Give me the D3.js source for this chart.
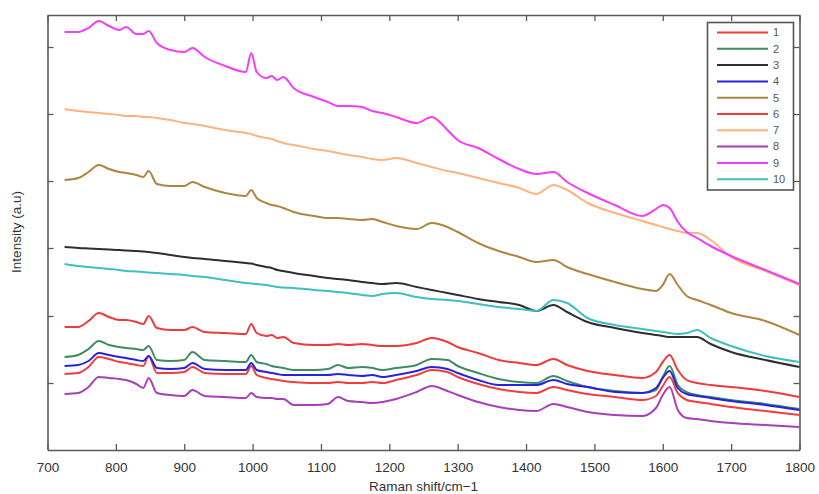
<!DOCTYPE html>
<html>
<head>
<meta charset="utf-8">
<script src="https://cdn.jsdelivr.net/npm/d3@7"></script>
<style>
  body { margin: 0; background: #fff; }
  svg { display: block; font-family: "Liberation Sans", Arial, sans-serif; }
</style>
</head>
<body>
<div id="viz"><svg width="819" height="494"></svg></div>
<script>
// Raman shift grid (cm-1) shared by all spectra
var shifts = [725, 745, 760, 775, 790, 805, 815, 830, 840, 848, 860, 880, 900, 912, 930, 960, 990, 998, 1006, 1020,
    1028, 1036, 1045, 1060, 1090, 1110, 1125, 1140, 1160, 1175, 1190, 1210, 1240, 1262, 1285, 1300, 1330, 1360, 1390, 1415,
    1440, 1460, 1490, 1530, 1570, 1590, 1600, 1610, 1622, 1635, 1650, 1670, 1700, 1750, 1800]

// intensities (a.u), one array per spectrum
var s1 = [76, 77, 83, 93, 91, 88, 87, 85, 84, 94, 77, 77, 78, 83, 77, 76, 76, 84, 75, 72,
    71, 70, 69, 68, 67, 67, 68, 67, 67, 68, 67, 70, 75, 80, 78, 73, 66, 61, 58, 57,
    63, 60, 56, 53, 50, 54, 64, 73, 57, 50, 48, 46, 43, 39, 35]
var s2 = [93, 95, 101, 109, 105, 103, 102, 101, 100, 104, 90, 89, 90, 98, 90, 89, 88, 95, 88, 86,
    84, 83, 82, 80, 80, 81, 85, 82, 83, 82, 80, 82, 85, 91, 90, 84, 77, 71, 68, 67,
    74, 69, 63, 59, 57, 60, 73, 84, 65, 58, 55, 53, 50, 46, 41]
var s3 = [203, 202, 201.5, 201, 200.5, 200, 199.5, 199, 198.5, 198, 197, 195, 193, 192, 191, 189, 187, 186.5, 185, 183,
    182, 180, 179, 177, 174, 172, 171, 170, 168, 167, 166, 167, 163, 160, 157, 155, 151, 148, 145, 139,
    145, 138, 128, 122, 117, 115, 114, 113, 113, 113, 113, 106, 98, 90, 83]
var s4 = [84, 85, 89, 97, 95, 93, 92, 90, 89, 94, 82, 81, 82, 87, 81, 80, 80, 87, 80, 78,
    77, 76, 75, 75, 75, 75, 76, 75, 74, 75, 73, 75, 79, 83, 81, 77, 70, 65, 65, 65,
    70, 66, 63, 58, 57, 62, 72, 79, 62, 56, 54, 52, 49, 45, 40]
var s5 = [270, 272, 278, 285, 281, 278, 277, 275, 273, 279, 266, 264, 264, 268, 263, 257, 254, 260, 252, 247,
    245, 244, 242, 238, 234, 232, 232, 231, 230, 231, 228, 224, 221, 227, 223, 218, 207, 199, 193, 188,
    190, 183, 176, 168, 161, 159, 165, 176, 165, 154, 150, 145, 137, 129, 115]
var s6 = [123, 123, 129, 137, 133, 130, 130, 128, 126, 134, 122, 120, 120, 123, 118, 117, 116, 126, 117, 114,
    115, 112, 113, 107, 105, 105, 106, 105, 106, 105, 104, 104, 107, 112, 108, 103, 97, 90, 87, 85,
    91, 85, 79, 75, 72, 78, 88, 95, 80, 70, 67, 65, 63, 59, 53]
var s7 = [341, 339, 338, 337, 336, 335, 334, 334, 333, 333, 332, 330, 327, 326, 324, 320, 317, 316, 314, 312,
    311, 309, 307, 305, 301, 299, 297, 295, 293, 291, 290, 292, 287, 283, 279, 277, 272, 267, 262, 256,
    265, 260, 247, 237, 229, 225, 223, 221, 219, 217, 217, 210, 193, 179, 165]
var s8 = [56, 57, 63, 73, 72, 71, 70, 66, 62, 72, 57, 55, 54, 60, 54, 53, 52, 57, 53, 52,
    52, 51, 51, 45, 45, 46, 53, 49, 48, 47, 48, 51, 58, 64, 59, 55, 48, 43, 40, 39,
    46, 43, 38, 35, 34, 42, 55, 63, 40, 32, 31, 29, 27, 25, 23]
var s9 = [418, 418, 422, 429, 424, 420, 423, 416, 416, 419, 407, 400, 398, 402, 393, 384, 378, 397, 378, 372,
    374, 370, 373, 362, 353, 348, 344, 344, 343, 339, 337, 333, 327, 333, 320, 310, 302, 291, 281, 276,
    278, 268, 257, 245, 234, 241, 245, 242, 228, 218, 212, 204, 194, 180, 166]
var s10 = [186, 184, 183, 182, 181, 180, 179, 178.5, 178, 177.5, 177, 176, 175, 174, 173, 170, 167, 166.5, 166, 165,
    164, 163, 162.5, 162, 160, 159, 158, 157, 155, 154, 156, 157, 153, 151, 150, 149, 146, 143, 141, 139,
    150, 147, 132, 125, 121, 119, 118, 117, 116, 117, 120, 112, 104, 94, 88]

var seriesNames = ["1", "2", "3", "4", "5", "6", "7", "8", "9", "10"]
var seriesValues = [s1, s2, s3, s4, s5, s6, s7, s8, s9, s10]
var colors = ["#f23d3d", "#3f8c63", "#2e2e2e", "#2424dc", "#ae8640", "#f03a3a", "#ffb27f", "#a83fb8", "#f63cf6", "#3fbfbf"]

var xTicks = [700, 800, 900, 1000, 1100, 1200, 1300, 1400, 1500, 1600, 1700, 1800]
var yTicks = [67, 134, 202, 269, 336, 403]

var margin = {left: 47.5, right: 19.5, top: 15, bottom: 44}
var width = 819, height = 494

var svg = d3.select("#viz").select("svg")

var x = d3.scaleLinear().domain([700, 1800]).range([margin.left, width - margin.right])
var y = d3.scaleLinear().domain([0, 435]).range([height - margin.bottom, margin.top])

var axisColor = "#5a5a5a"

// axes with inward ticks on all four sides
svg.append("g")
    .attr("transform", "translate(0," + (height - margin.bottom) + ")")
    .call(d3.axisBottom(x).tickValues(xTicks).tickFormat(d3.format("d"))
        .tickSizeInner(-6).tickSizeOuter(0).tickPadding(12))
    .call(g => g.selectAll("text").attr("font-size", 13.5).attr("fill", "#333"))

svg.append("g")
    .attr("transform", "translate(0," + margin.top + ")")
    .call(d3.axisTop(x).tickValues(xTicks).tickSizeInner(-6).tickSizeOuter(0).tickFormat(""))

svg.append("g")
    .attr("transform", "translate(" + margin.left + ",0)")
    .call(d3.axisLeft(y).tickValues(yTicks).tickSizeInner(-6).tickSizeOuter(0).tickFormat(""))

svg.append("g")
    .attr("transform", "translate(" + (width - margin.right) + ",0)")
    .call(d3.axisRight(y).tickValues(yTicks).tickSizeInner(-6).tickSizeOuter(0).tickFormat(""))

svg.selectAll(".domain").attr("stroke", axisColor).attr("stroke-width", 1.6)
svg.selectAll(".tick line").attr("stroke", axisColor).attr("stroke-width", 1.3)

// spectra
var line = d3.line()
    .x((d, i) => x(shifts[i]))
    .y(d => y(d))
    .curve(d3.curveMonotoneX)

svg.append("g")
    .attr("id", "spectraG")
    .selectAll("path")
    .data(seriesValues)
    .enter()
    .append("path")
    .attr("d", d => line(d))
    .attr("fill", "none")
    .attr("stroke", (d, i) => colors[i])
    .attr("stroke-width", 2)
    .attr("stroke-linejoin", "round")

// axis titles
svg.append("text")
    .attr("x", (margin.left + width - margin.right) / 2)
    .attr("y", 491)
    .attr("text-anchor", "middle")
    .attr("font-size", 13.5)
    .attr("fill", "#333")
    .text("Raman shift/cm\u22121")

svg.append("text")
    .attr("transform", "translate(21," + 232 + ") rotate(-90)")
    .attr("text-anchor", "middle")
    .attr("font-size", 13.5)
    .attr("fill", "#333")
    .text("Intensity (a.u)")

// legend
var legendG = svg.append("g").attr("id", "legendG")

legendG.append("rect")
    .attr("x", 707.5)
    .attr("y", 22.5)
    .attr("width", 86)
    .attr("height", 167.5)
    .attr("fill", "#fff")
    .attr("stroke", "#555")
    .attr("stroke-width", 1.6)

var items = legendG.selectAll("g.item")
    .data(seriesNames)
    .enter()
    .append("g")
    .attr("class", "item")
    .attr("transform", (d, i) => "translate(0," + (32.5 + i * 16.3) + ")")

items.append("line")
    .attr("x1", 717)
    .attr("x2", 768)
    .attr("stroke", (d, i) => colors[i])
    .attr("stroke-width", 2)

items.append("text")
    .attr("x", 773)
    .attr("dy", "0.35em")
    .attr("font-size", 11)
    .attr("fill", "#555")
    .text(d => d)
</script>
</body>
</html>
